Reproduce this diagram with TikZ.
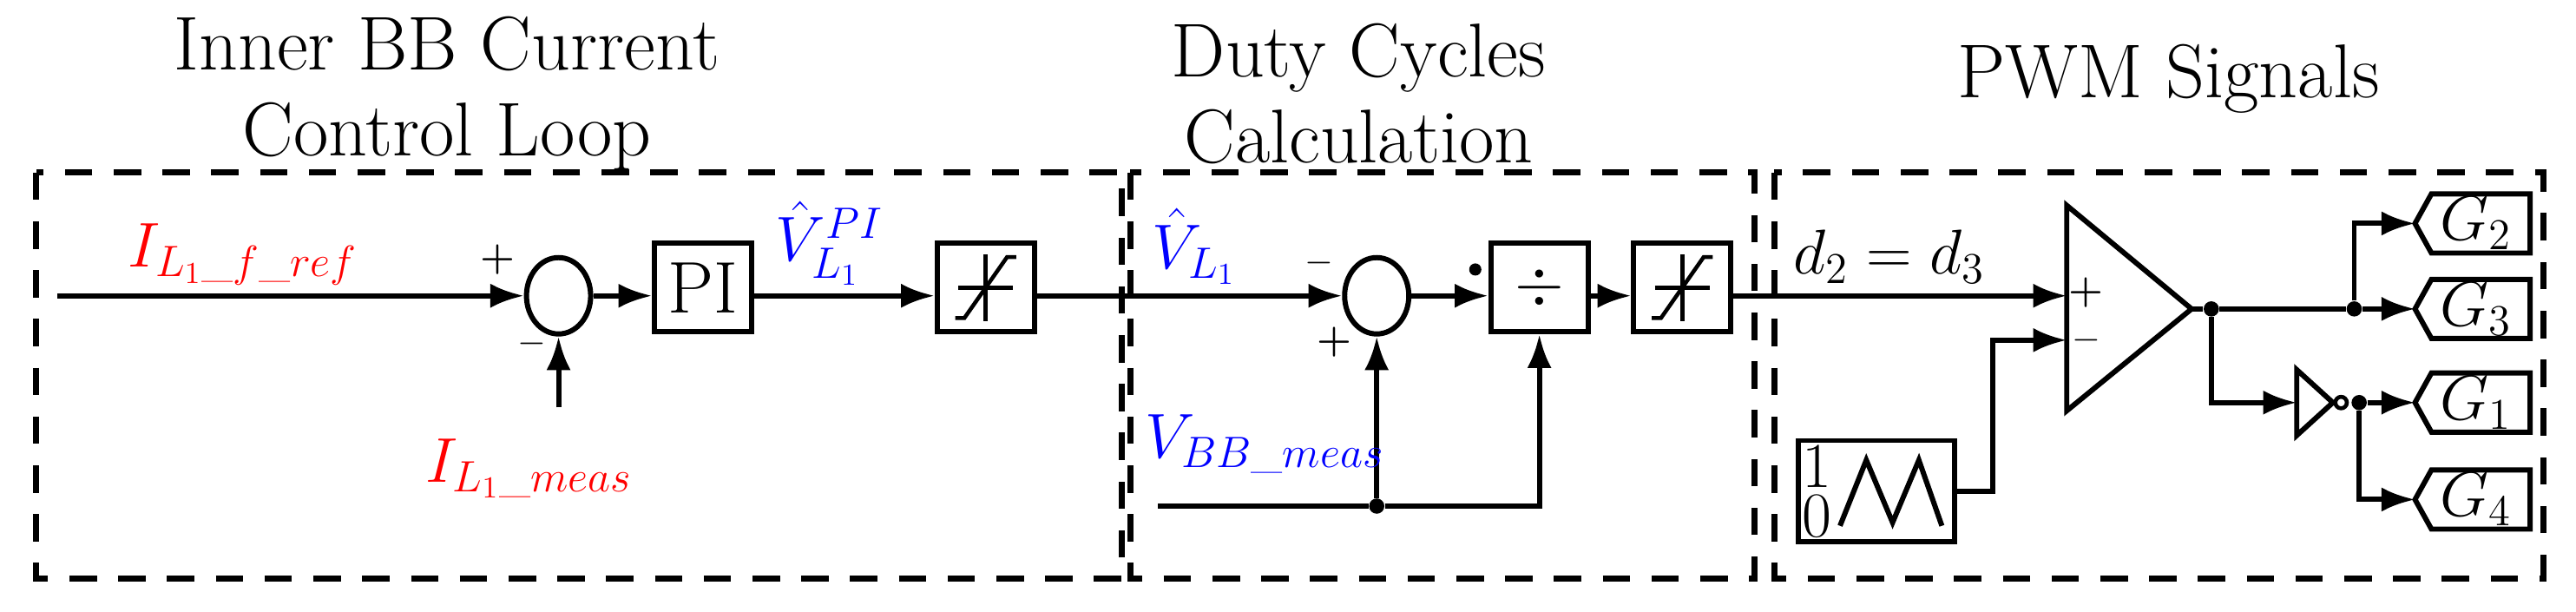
\documentclass[tikz,border=0pt]{standalone}
\usepackage{amsmath}
\usetikzlibrary{arrows.meta,positioning,shapes.geometric}
\tikzset{
  sig/.style={line width=1.7pt},
  arr/.style={sig,-{Latex[length=11pt,width=8pt]}},
  blk/.style={draw,line width=1.7pt,minimum width=1.12cm,minimum height=1.02cm,inner sep=0pt},
  sum/.style={draw,ellipse,line width=1.7pt,minimum width=0.74cm,minimum height=0.88cm,inner sep=0pt},
  frame/.style={line width=2pt,dash pattern=on 9pt off 7pt},
  title/.style={font=\fontsize{25}{28}\selectfont,align=center},
  lbl/.style={font=\fontsize{20}{22}\selectfont},
  sgn/.style={font=\fontsize{13}{14}\selectfont\bfseries},
  dot/.style={circle,fill,inner sep=0pt,minimum size=5pt},
}
\newcommand{\satsym}[1]{%
  \draw[line width=1.3pt] ([xshift=-9pt]#1.center) -- ([xshift=9pt]#1.center);
  \draw[line width=1.3pt] ([yshift=-11pt]#1.center) -- ([yshift=11pt]#1.center);
  \draw[line width=1.3pt] ([shift={(-10pt,-10pt)}]#1.center) -- ([shift={(-7pt,-10pt)}]#1.center)
     -- ([shift={(7pt,10pt)}]#1.center) -- ([shift={(10pt,10pt)}]#1.center);}
\newcommand{\gtag}[3]{% name, y, text
  \draw[line width=1.7pt] (1470,#2) -- (1480,#2-18) -- (1540,#2-18) -- (1540,#2+18)
     -- (1480,#2+18) -- cycle;
  \node[font=\fontsize{22}{24}\selectfont,inner sep=0pt] (#1) at (1507,#2) {$#3$};
  \coordinate (#1in) at (1470,#2);}
\begin{document}
\begin{tikzpicture}[x=0.01893cm,y=-0.01893cm]
\useasboundingbox (0,0) rectangle (1568,372.4);
% frames and titles
\draw[frame] (22,105) rectangle (683,352);
\draw[frame] (688,105) rectangle (1068,352);
\draw[frame] (1080,105) rectangle (1548,352);
\node[title] (t1) at (272,57) {Inner BB Current\\Control Loop};
\node[title] (t2) at (827,57) {Duty Cycles\\Calculation};
\node[title] (t3) at (1320,48) {PWM Signals};
% current loop
\coordinate (iref) at (35,180);
\node[sum] (sum1) at (340,180) {};
\node[blk] (pi) at (428,175) {\fontsize{24}{26}\selectfont PI};
\node[blk] (sat1) at (600,175) {};
\satsym{sat1}
\coordinate (imeas) at (340,248);
\draw[arr] (iref) -- (sum1.west);
\draw[arr] (imeas) -- (sum1.south);
\draw[arr] (sum1.east) -- (pi.west |- sum1.east);
\draw[arr] (pi.east |- sum1.east) -- (sat1.west |- sum1.east);
\node[sgn] at (303,158) {+};
\node[sgn] at (324,209) {$-$};
\node[lbl,red] (lref) at (148,155) {$I_{L_1\text{\_}f\text{\_}ref}$};
\node[lbl,red] (lmeas) at (322,285) {$I_{L_1\text{\_}meas}$};
\node[lbl,blue] (lpi) at (505,148) {$\hat{V}_{L_1}^{PI}$};
% duty cycle calculation
\node[sum] (sum2) at (838,180) {};
\node[blk] (div) at (937,175) {\fontsize{22}{24}\selectfont$\div$};
\node[blk] (sat2) at (1024,175) {};
\satsym{sat2}
\draw[arr] (sat1.east |- sum1.east) -- (sum2.west);
\draw[arr] (sum2.east) -- (div.west |- sum2.east);
\draw[arr] (div.east |- sum2.east) -- (sat2.west |- sum2.east);
\coordinate (vbb) at (705,308);
\node[dot] (jbb) at (838,308) {};
\draw[sig] (vbb) -- (jbb);
\draw[arr] (jbb) -- (sum2.south);
\draw[arr] (jbb) -| (div.south);
\node[sgn] at (803,160) {$-$};
\node[sgn] at (812,208) {+};
\node[dot,minimum size=4pt] at (898,164) {};
\node[lbl,blue] (lvl) at (727,150) {$\hat{V}_{L_1}$};
\node[lbl,blue] (lvbb) at (770,270) {$V_{BB\text{\_}meas}$};
% PWM
\draw[line width=1.7pt] (1258,125) -- (1334,188) -- (1258,250) -- cycle;
\coordinate (cplus) at (1258,180);
\coordinate (cminus) at (1258,207);
\node[sgn] at (1270,178) {+};
\node[sgn] at (1270,207) {$-$};
\node[lbl] (ld) at (1150,156) {$d_2 = d_3$};
\draw[arr] (sat2.east |- sum2.east) -- (cplus);
\node[blk,minimum width=1.8cm,minimum height=1.17cm] (saw) at (1142,299) {};
\node[font=\fontsize{21}{21}\selectfont,inner sep=0pt] at (1106,284) {1};
\node[font=\fontsize{21}{21}\selectfont,inner sep=0pt] at (1106,314) {0};
\draw[line width=1.7pt] (1120,320) -- (1136,280) -- (1152,318) -- (1168,280) -- (1182,320);
\draw[arr] (saw.east) -- (1213,299) |- (cminus);
\node[dot] (jc) at (1346,188) {};
\node[dot] (jg) at (1433,188) {};
\draw[sig] (1334,188) -- (jc) -- (jg);
\draw[line width=1.7pt] (1398,225) -- (1420,245) -- (1398,265) -- cycle;
\draw[line width=1.3pt] (1425,245) circle (3.5);
\node[dot] (jn) at (1436,245) {};
\draw[arr] (jc) |- (1398,245);
\gtag{g2}{136}{G_2}
\gtag{g3}{188}{G_3}
\gtag{g1}{245}{G_1}
\gtag{g4}{304}{G_4}
\draw[arr] (jg) -- (g3in);
\draw[arr] (jg) |- (g2in);
\draw[arr] (jn) -- (g1in);
\draw[arr] (jn) |- (g4in);
\end{tikzpicture}
\end{document}
